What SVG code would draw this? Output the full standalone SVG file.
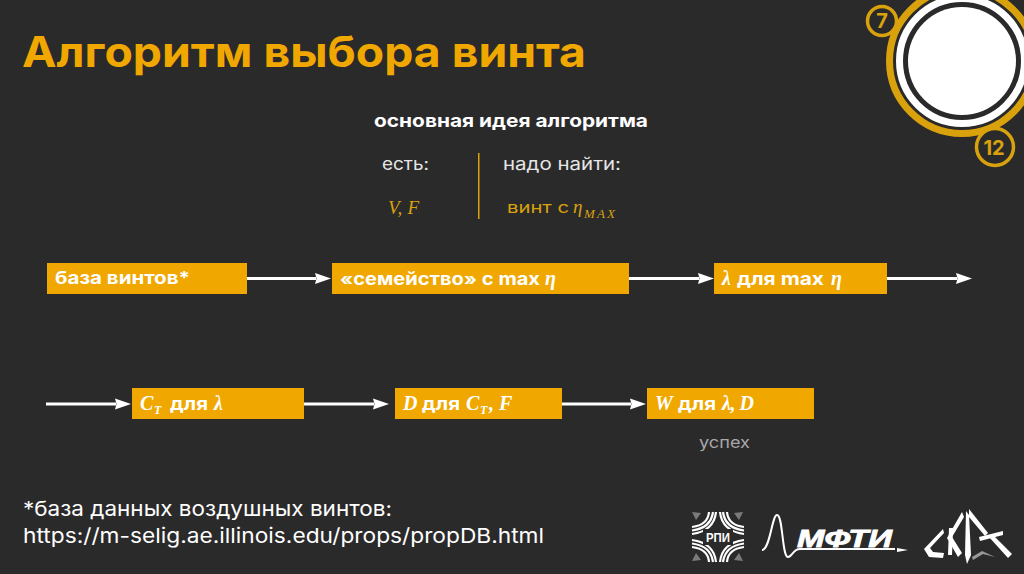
<svg xmlns="http://www.w3.org/2000/svg" width="1024" height="574" viewBox="0 0 1024 574">
<defs>
<marker id="ah" markerUnits="userSpaceOnUse" markerWidth="17" markerHeight="12" refX="1" refY="6" orient="auto"><path d="M0 0.500L16 6L0 11.500L1.500 6Z" fill="#fff"/></marker>
</defs>
<style>
.s{font-family:Inter,"Open Sans",sans-serif}
.b{font-family:Inter,"Open Sans",sans-serif;font-weight:700;fill:#fff;font-size:17.500px}
.m{font-family:"Liberation Serif",serif;font-style:italic;font-weight:700;fill:#fff;font-size:20px}
.sub{font-family:"Liberation Serif",serif;font-style:italic;font-weight:700;fill:#fff;font-size:12px}
.box{fill:#f0a800}
.c{stroke:#fff;stroke-width:3;fill:none;marker-end:url(#ah)}
.g{fill:#d9a20d}
</style>
<rect width="1024" height="574" fill="#2b2a2b"/>
<g id="title"><text class="s" x="22" y="67" font-size="42" font-weight="700" fill="#f0a800" textLength="564" lengthAdjust="spacingAndGlyphs">Алгоритм выбора винта</text></g>
<g id="badge">
<circle cx="962" cy="61" r="72.500" fill="none" stroke="#d9a20d" stroke-width="7"/>
<circle cx="962" cy="61" r="62.500" fill="none" stroke="#fff" stroke-width="7"/>
<circle cx="962" cy="61" r="54" fill="#fff"/>
<circle cx="882" cy="21" r="14.500" fill="#2b2a2b" stroke="#d9a20d" stroke-width="3.500"/>
<text class="s g" x="882" y="28" font-size="20" font-weight="700" text-anchor="middle">7</text>
<circle cx="995" cy="147" r="18.500" fill="#2b2a2b" stroke="#d9a20d" stroke-width="3.500"/>
<text class="s g" x="994" y="155" font-size="20" font-weight="700" text-anchor="middle">12</text>
</g>
<g id="idea">
<text class="s" x="374" y="127" font-size="18" font-weight="700" fill="#fff" textLength="274" lengthAdjust="spacingAndGlyphs">основная идея алгоритма</text>
<text class="s" x="382" y="170" font-size="17" fill="#e6e6e6" textLength="47" lengthAdjust="spacingAndGlyphs">есть:</text>
<text class="s" x="503" y="170" font-size="17" fill="#e6e6e6" textLength="118" lengthAdjust="spacingAndGlyphs">надо найти:</text>
<rect x="478" y="153" width="1.500" height="66" fill="#d9a20d"/>
<text x="388" y="214" font-family="Liberation Serif,serif" font-style="italic" font-size="19" class="g" textLength="31">V, F</text>
<text class="s g" x="507" y="213" font-size="15" textLength="62" lengthAdjust="spacingAndGlyphs">винт с</text>
<text x="573" y="213" font-family="Liberation Serif,serif" font-style="italic" font-size="19" class="g">η</text>
<text x="584" y="218" font-family="Liberation Serif,serif" font-style="italic" font-size="13" class="g" textLength="31">MAX</text>
</g>
<g id="connectors">
<line class="c" x1="247" y1="278.500" x2="316" y2="278.500"/>
<line class="c" x1="629" y1="278.500" x2="699" y2="278.500"/>
<line class="c" x1="887" y1="278.500" x2="957" y2="278.500"/>
<line class="c" x1="46" y1="404" x2="116" y2="404"/>
<line class="c" x1="304" y1="404" x2="374" y2="404"/>
<line class="c" x1="562" y1="404" x2="631" y2="404"/>
</g>
<g id="n1"><rect class="box" x="47" y="263" width="200" height="31"/><text class="b" x="55" y="284" textLength="135" lengthAdjust="spacingAndGlyphs">база винтов*</text></g>
<g id="n2"><rect class="box" x="332" y="263" width="297" height="31"/><text class="b" x="340" y="285" textLength="200" lengthAdjust="spacingAndGlyphs">«семейство» с max</text><text class="m" x="545" y="285">η</text></g>
<g id="n3"><rect class="box" x="714" y="263" width="173" height="31"/><text class="m" x="722" y="285">λ</text><text class="b" x="737" y="285" textLength="87" lengthAdjust="spacingAndGlyphs">для max</text><text class="m" x="831" y="285">η</text></g>
<g id="n4"><rect class="box" x="132" y="388" width="172" height="31"/><text class="m" x="140" y="410">C</text><text class="sub" x="154" y="414">T</text><text class="b" x="170" y="410" textLength="38" lengthAdjust="spacingAndGlyphs">для</text><text class="m" x="214" y="410">λ</text></g>
<g id="n5"><rect class="box" x="395" y="388" width="167" height="31"/><text class="m" x="403" y="410">D</text><text class="b" x="422" y="410" textLength="38" lengthAdjust="spacingAndGlyphs">для</text><text class="m" x="466" y="410">C</text><text class="sub" x="480" y="414">T</text><text class="m" x="489" y="410">, F</text></g>
<g id="n6"><rect class="box" x="647" y="388" width="167" height="31"/><text class="m" x="655" y="410">W</text><text class="b" x="678" y="410" textLength="38" lengthAdjust="spacingAndGlyphs">для</text><text class="m" x="722" y="410" textLength="32">λ, D</text></g>
<g id="success"><text class="s" x="699" y="448" font-size="15.500" fill="#a8a8a8" textLength="51" lengthAdjust="spacingAndGlyphs">успех</text></g>
<g id="footnote" class="s" font-size="20.500" fill="#fff">
<text x="23" y="516" textLength="369" lengthAdjust="spacingAndGlyphs">*база данных воздушных винтов:</text>
<text x="23" y="543" textLength="521" lengthAdjust="spacingAndGlyphs">https://m-selig.ae.illinois.edu/props/propDB.html</text>
</g>
<g id="logo-rpi">
<g fill="none" stroke="#fff" stroke-width="2.200">
<path d="M692 527Q708 525 709 512M692 530.500Q711 528 713 512M692 534Q714 531 716 512"/>
<path d="M744 527Q728 525 727 512M744 530.500Q725 528 723 512M744 534Q722 531 720 512"/>
<path d="M692 547Q708 549 709 562M692 543.500Q711 546 713 562M692 540Q714 543 716 562"/>
<path d="M744 547Q728 549 727 562M744 543.500Q725 546 723 562M744 540Q722 543 720 562"/>
</g>
<path d="M692 512L701 513L696 520ZM743 512L734 513L739 520ZM692 561L701 560L696 553ZM743 561L734 560L739 553Z" fill="#7a7a7a"/>
<rect x="703" y="529" width="30" height="16" fill="#2b2a2b"/>
<text x="718" y="542" font-family="Liberation Sans,sans-serif" font-size="13" font-weight="700" fill="#fff" text-anchor="middle" textLength="24" lengthAdjust="spacingAndGlyphs">РПИ</text>
</g>
<g id="logo-mipt">
<path d="M762 550C770 550 772 515 777 515C783 515 782 557 788 557C792 557 793 549 800 549L895 549" fill="none" stroke="#fff" stroke-width="2"/>
<text x="797" y="547" font-family="Liberation Sans,sans-serif" font-size="24" font-weight="700" font-style="italic" fill="#fff" stroke="#fff" stroke-width="0.800" textLength="95" lengthAdjust="spacingAndGlyphs">МФТИ</text>
<path d="M897 548L908 550L897 552Z" fill="#fff"/>
</g>
<g id="logo-skat" fill="#fff">
<path d="M943 529L944 533L930 548L933 552L944 553L943 558L929 557L924 549Z"/>
<path d="M949 528L953 528L952 555L948 555Z"/>
<path d="M962 512L964 517L952 537L962 553L958 557L947 538Z"/>
<path d="M966 511L969 515L971 555L967 564L965 555Z"/>
<path d="M969 509L988 533L985 536L969 517Z"/>
<path d="M979 537L1003 531L1003 535L980 541Z"/>
<path d="M989 537L993 535L1012 554L1008 558Z"/>
<path d="M972 557L982 551L995 557L983 554L973 560Z" fill="#999"/>
</g>
</svg>
